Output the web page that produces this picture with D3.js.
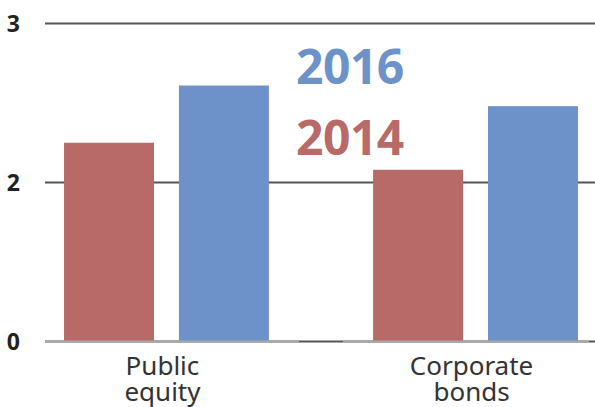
<!DOCTYPE html>
<html>
<head>
<meta charset="utf-8">
<script src="https://cdn.jsdelivr.net/npm/d3@7"></script>
<style>
  body { margin: 0; background: #fff; }
  svg { display: block; font-family: "Noto Sans", sans-serif; }
</style>
</head>
<body>
<div id="chart-area"></div>
<script>
const categories = ["Public equity", "Corporate bonds"]
const years = ["2014", "2016"]
const values2014 = [2.25, 2.08]
const values2016 = [2.61, 2.48]
const tickValues = [0, 2, 3]

const COLORS = { "2014": "#b76a68", "2016": "#6d91c9" }

const W = 595, H = 407
const LEFT = 45, RIGHT = 595

const svg = d3.select("#chart-area")
  .append("svg")
    .attr("width", W)
    .attr("height", H)

// broken axis: 0, 2, 3 equally spaced
const y = d3.scaleLinear()
  .domain(tickValues)
  .range([341.5, 182.5, 23.5])

const x = d3.scaleBand()
  .domain(categories)
  .range([45, 597])
  .paddingInner(0.3)
  .paddingOuter(0.043)

const xSub = d3.scaleBand()
  .domain(years)
  .range([0, x.bandwidth()])
  .paddingInner(0.217)
  .paddingOuter(0.05)

// grid lines
svg.append("g")
  .selectAll("line")
  .data(tickValues)
  .enter().append("line")
    .attr("x1", LEFT)
    .attr("x2", RIGHT)
    .attr("y1", d => y(d))
    .attr("y2", d => y(d))
    .attr("stroke", "#555")
    .attr("stroke-width", 2)

// tick labels
svg.append("g")
  .selectAll("text")
  .data(tickValues)
  .enter().append("text")
    .attr("x", 20)
    .attr("y", d => y(d) + 8)
    .attr("text-anchor", "end")
    .attr("font-size", "23px")
    .attr("font-weight", "bold")
    .attr("fill", "#222")
    .text(d => d)

const data = categories.map((c, i) => ({
  category: c,
  bars: [
    { year: "2014", value: values2014[i] },
    { year: "2016", value: values2016[i] }
  ]
}))

const groups = svg.append("g")
  .selectAll("g")
  .data(data)
  .enter().append("g")
    .attr("transform", d => `translate(${x(d.category)}, 0)`)

groups.selectAll("rect")
  .data(d => d.bars)
  .enter().append("rect")
    .attr("x", d => xSub(d.year))
    .attr("y", d => y(d.value))
    .attr("width", xSub.bandwidth())
    .attr("height", d => y(0) - y(d.value))
    .attr("fill", d => COLORS[d.year])

// light axis segments under each category
const segs = categories.map((c, i) => {
  const start = i === 0 ? LEFT : (x(categories[i - 1]) + x.bandwidth() + x(c)) / 2 + 22
  const end = i === categories.length - 1 ? RIGHT - 6 : (x(c) + x.bandwidth() + x(categories[i + 1])) / 2 - 22
  return [start, end]
})
svg.append("g")
  .selectAll("line")
  .data(segs)
  .enter().append("line")
    .attr("x1", d => d[0])
    .attr("x2", d => d[1])
    .attr("y1", y(0))
    .attr("y2", y(0))
    .attr("stroke", "#aaa")
    .attr("stroke-width", 2)

// category labels
groups.append("text")
  .attr("x", x.bandwidth() / 2 - 4)
  .attr("y", 375)
  .attr("text-anchor", "middle")
  .attr("font-size", "26px")
  .attr("fill", "#333")
  .selectAll("tspan")
  .data(d => d.category.split(" "))
  .enter().append("tspan")
    .attr("x", x.bandwidth() / 2 - 4)
    .attr("dy", (d, i) => i === 0 ? 0 : 26)
    .text(d => d)

// legend
const legend = svg.append("g")
legend.selectAll("text")
  .data(years.slice().reverse())
  .enter().append("text")
    .attr("x", 296)
    .attr("y", (d, i) => 84 + i * 71)
    .attr("font-size", "48px")
    .attr("font-weight", "bold")
    .attr("letter-spacing", "-0.5px")
    .attr("fill", d => COLORS[d])
    .text(d => d)
</script>
</body>
</html>
